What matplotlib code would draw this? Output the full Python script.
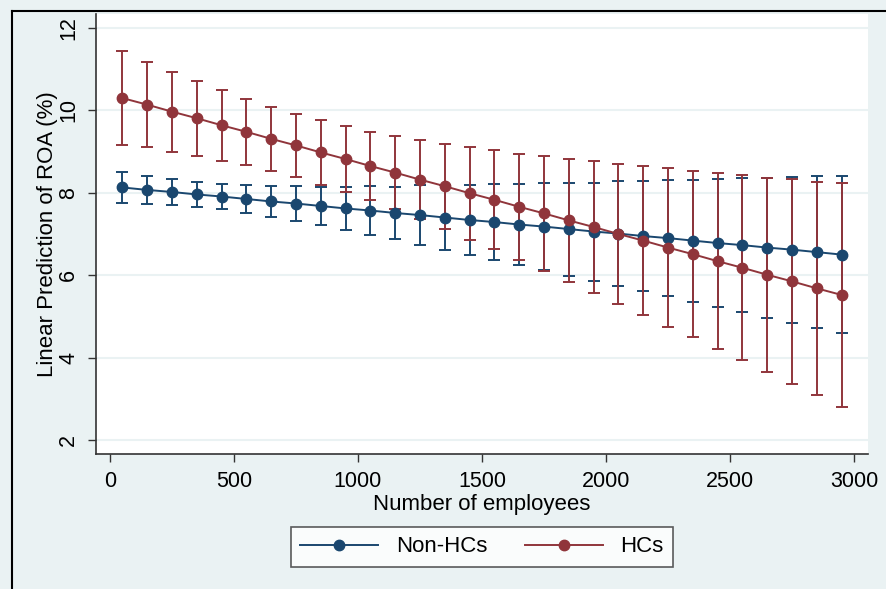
import matplotlib
matplotlib.use("Agg")
import matplotlib.pyplot as plt
from matplotlib.lines import Line2D

plt.rcParams['font.family'] = ['Liberation Sans', 'DejaVu Sans']

employees = [50, 150, 250, 350, 450, 550, 650, 750, 850, 950,
             1050, 1150, 1250, 1350, 1450, 1550, 1650, 1750, 1850, 1950,
             2050, 2150, 2250, 2350, 2450, 2550, 2650, 2750, 2850, 2950]

non_hc = [8.13, 8.07, 8.02, 7.96, 7.91, 7.85, 7.79, 7.74, 7.68, 7.62,
          7.57, 7.51, 7.46, 7.40, 7.34, 7.29, 7.23, 7.18, 7.12, 7.06,
          7.01, 6.95, 6.90, 6.84, 6.78, 6.73, 6.67, 6.62, 6.56, 6.50]
non_hc_lo = [7.76, 7.74, 7.71, 7.66, 7.60, 7.52, 7.42, 7.32, 7.21, 7.10,
             6.98, 6.87, 6.74, 6.62, 6.49, 6.37, 6.25, 6.12, 5.99, 5.87,
             5.74, 5.61, 5.49, 5.36, 5.23, 5.10, 4.97, 4.85, 4.72, 4.59]
non_hc_hi = [8.50, 8.40, 8.33, 8.26, 8.22, 8.18, 8.16, 8.16, 8.15, 8.14,
             8.16, 8.15, 8.18, 8.18, 8.19, 8.21, 8.21, 8.24, 8.25, 8.25,
             8.28, 8.29, 8.31, 8.32, 8.33, 8.36, 8.37, 8.39, 8.40, 8.41]

hc = [10.30, 10.14, 9.97, 9.81, 9.64, 9.48, 9.31, 9.15, 8.98, 8.82,
      8.65, 8.49, 8.32, 8.16, 7.99, 7.83, 7.66, 7.50, 7.33, 7.17,
      7.00, 6.84, 6.67, 6.51, 6.34, 6.18, 6.01, 5.85, 5.68, 5.52]
hc_lo = [9.17, 9.10, 9.00, 8.90, 8.78, 8.68, 8.53, 8.39, 8.20, 8.03,
         7.82, 7.60, 7.36, 7.13, 6.86, 6.63, 6.37, 6.10, 5.83, 5.57,
         5.30, 5.03, 4.75, 4.49, 4.20, 3.94, 3.66, 3.36, 3.09, 2.81]
hc_hi = [11.43, 11.18, 10.94, 10.72, 10.50, 10.28, 10.09, 9.91, 9.76, 9.61,
         9.48, 9.38, 9.28, 9.19, 9.12, 9.03, 8.95, 8.90, 8.83, 8.77,
         8.70, 8.65, 8.59, 8.53, 8.48, 8.42, 8.36, 8.34, 8.27, 8.23]

yticks = [2, 4, 6, 8, 10, 12]
xticks = [0, 500, 1000, 1500, 2000, 2500, 3000]

navy = '#1a476f'
maroon = '#90353b'
bg = '#eaf2f3'

fig = plt.figure(figsize=(8.87, 5.89), dpi=100, facecolor=bg)
ax = fig.add_axes([96 / 887, 1 - 454 / 589, (868 - 96) / 887, (454 - 14) / 589])
ax.set_facecolor('white')

# outer frame (left and top edges visible)
fig.add_artist(Line2D([12 / 887, 12 / 887], [0, 1 - 11 / 589], transform=fig.transFigure,
                      color='black', lw=1.5))
fig.add_artist(Line2D([12 / 887, 1], [1 - 11 / 589, 1 - 11 / 589], transform=fig.transFigure,
                      color='black', lw=1.5))

for y in yticks:
    ax.axhline(y, color=bg, lw=1.5, zorder=0)


def draw(mid, lo, hi, color, label):
    yerr = [[m - l for m, l in zip(mid, lo)], [h - m for m, h in zip(mid, hi)]]
    ax.errorbar(employees, mid, yerr=yerr, fmt='none', ecolor=color, elinewidth=1.4,
                capsize=4, capthick=1.4, zorder=2)
    ax.plot(employees, mid, color=color, lw=1.4, marker='o', markersize=7.5,
            label=label, zorder=3)


draw(non_hc, non_hc_lo, non_hc_hi, navy, 'Non-HCs')
draw(hc, hc_lo, hc_hi, maroon, 'HCs')

ax.set_xlim(-56, 3056)
ax.set_ylim(1.66, 12.34)
ax.set_xticks(xticks)
ax.set_yticks(yticks)
ax.tick_params(axis='both', labelsize=15.5, length=6, width=1, color='#333333', pad=6)
for lab in ax.get_yticklabels():
    lab.set_rotation(90)
    lab.set_va('center')
for s in ['top', 'right']:
    ax.spines[s].set_visible(False)
for s in ['left', 'bottom']:
    ax.spines[s].set_color('#333333')
    ax.spines[s].set_linewidth(1.2)

ax.set_xlabel('Number of employees', fontsize=16, labelpad=2)
ax.set_ylabel('Linear Prediction of ROA (%)', fontsize=16, labelpad=0)

leg = ax.legend(loc='upper center', bbox_to_anchor=(0.5, -0.166), ncol=2, fontsize=16,
                frameon=True, fancybox=False, edgecolor='#333333', facecolor='white',
                handlelength=3.5, columnspacing=1.7, borderpad=0.42, borderaxespad=0)
leg.get_frame().set_linewidth(1.2)

fig.savefig('out.png', dpi=100, facecolor=bg)
